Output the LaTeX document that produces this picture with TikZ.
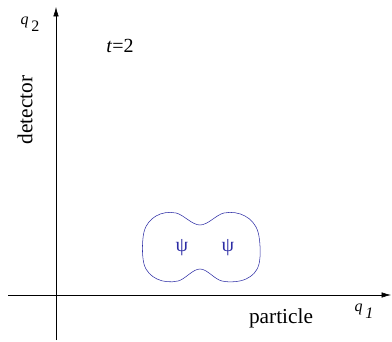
\documentclass[tikz,border=0pt]{standalone}
\usepackage{fontspec}
\setmainfont{Liberation Serif}
\usetikzlibrary{arrows.meta, positioning}
\definecolor{bleuOnde}{RGB}{45,45,165}

\begin{document}
\begin{tikzpicture}[
		x=0.75pt, y=-0.75pt,
		% styles
		axe/.style={-{Latex[length=7pt, width=4pt]}, thin},
		lbl/.style={font=\fontsize{16}{18}\selectfont, inner sep=0pt},
		petit/.style={font=\fontsize{12}{14}\selectfont, inner sep=0pt},
		paquet/.style={draw=bleuOnde, thin},
		psiStyle/.style={text=bleuOnde, font=\fontsize{15}{17}\selectfont, inner sep=0pt},
		]
	
	\useasboundingbox (0,0) rectangle (392,342);
	
	% axes
	\coordinate (O) at (56,295);
	\coordinate (Xbeg) at (8,295);
	\coordinate (Xend) at (391,295);
	\coordinate (Ybeg) at (56,340);
	\coordinate (Yend) at (56,7);
	\draw[axe] (Xbeg) -- (Xend);
	\draw[axe] (Ybeg) -- (Yend);
	
	\node[petit] (q2) at (30,24) {\textit{q}\,\raisebox{-5pt}{2}};
	\node[petit] (q1) at (364,311) {\textit{q}\,\raisebox{-5pt}{\textit{1}}};
	\node[petit, font=\fontsize{15}{17}\selectfont] (temps) at (120,46) {\textit{t}=2};
	\node[lbl, rotate=90] (detector) at (25,110) {detector};
	\node[lbl] (particle) at (281,318) {particle};
	
	% paquet d'onde
	\draw[paquet] plot[smooth cycle, tension=0.6] coordinates {
		(144,232) (156,216) (176,213) (200,225) (224,213) (245,216) (258,232)
		(259,264) (246,279) (222,281) (200,269) (178,281) (157,279) (144,264)};
	
	\node[psiStyle] (psiA) at (182,248) {ψ};
	\node[psiStyle] (psiB) at (228,248) {ψ};
	
\end{tikzpicture}
\end{document}
